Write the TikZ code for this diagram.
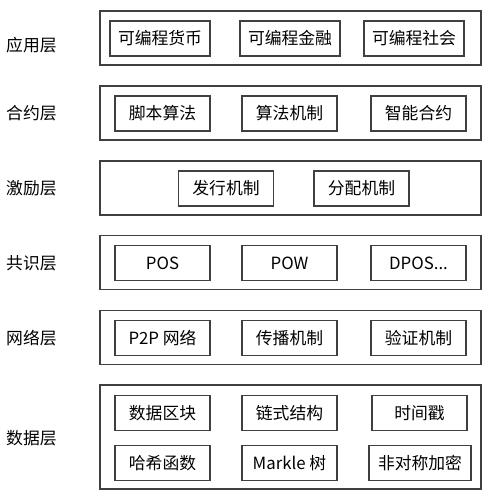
\documentclass[tikz,border=0pt]{standalone}
\usepackage{fontspec}
\setmainfont{Noto Sans CJK SC}
\begin{document}
\begin{tikzpicture}[x=1pt, y=-1pt, every node/.style = {inner sep=0pt, font=\fontsize{16.8}{18}\selectfont},
  layerbox/.style = {draw=black!75, line width=1.1pt, minimum width=381pt, minimum height=54pt},
  itembox/.style = {draw=black!75, line width=1.1pt, minimum width=95pt, minimum height=35pt},
  layername/.style = {anchor=west}]
  \useasboundingbox (0,0) rectangle (497,501);
  % layer frames
  \node[layerbox] (app) at (290.5,38) {};
  \node[layerbox] (con) at (290.5,113) {};
  \node[layerbox] (inc) at (290.5,188) {};
  \node[layerbox] (cns) at (290.5,262.5) {};
  \node[layerbox] (net) at (290.5,337.5) {};
  \node[layerbox, minimum height=104pt] (dat) at (290.5,437) {};
  % layer names
  \node[layername] (appname) at (6,45) {应用层};
  \node[layername] (conname) at (6,113) {合约层};
  \node[layername] (incname) at (6,188) {激励层};
  \node[layername] (cnsname) at (6,263) {共识层};
  \node[layername] (netname) at (6,338) {网络层};
  \node[layername] (datname) at (6,438) {数据层};
  % application layer
  \node[itembox, minimum width=100pt] (app1) at (160,38.5) {可编程货币};
  \node[itembox, minimum width=100pt] (app2) at (290,38.5) {可编程金融};
  \node[itembox, minimum width=100pt] (app3) at (414,38.5) {可编程社会};
  % contract layer
  \node[itembox] (con1) at (162.5,113.5) {脚本算法};
  \node[itembox] (con2) at (289.5,113.5) {算法机制};
  \node[itembox] (con3) at (418.5,113.5) {智能合约};
  % incentive layer
  \node[itembox] (inc1) at (226,188.5) {发行机制};
  \node[itembox] (inc2) at (361.5,188.5) {分配机制};
  % consensus layer
  \node[itembox] (cns1) at (162.5,263) {POS};
  \node[itembox] (cns2) at (289.5,263) {POW};
  \node[itembox] (cns3) at (418.5,263) {DPOS...};
  % network layer
  \node[itembox] (net1) at (162.5,338) {P2P 网络};
  \node[itembox] (net2) at (289.5,338) {传播机制};
  \node[itembox] (net3) at (418.5,338) {验证机制};
  % data layer
  \node[itembox] (dat1) at (162.5,413) {数据区块};
  \node[itembox] (dat2) at (289.5,413) {链式结构};
  \node[itembox] (dat3) at (419.5,413) {时间戳};
  \node[itembox] (dat4) at (162.5,463) {哈希函数};
  \node[itembox] (dat5) at (289.5,463) {Markle 树};
  \node[itembox, minimum width=102pt] (dat6) at (420,463) {非对称加密};
\end{tikzpicture}
\end{document}
